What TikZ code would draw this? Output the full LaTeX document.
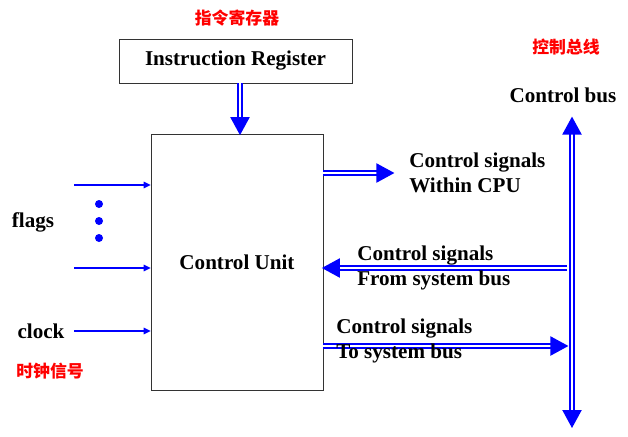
\documentclass[tikz,border=0pt]{standalone}
\usepackage{fontspec}
\setmainfont{Liberation Serif}
\newfontfamily\cjk{Noto Sans CJK SC}
\usetikzlibrary{arrows.meta}

\begin{document}
\begin{tikzpicture}[
    % Styles
    block/.style={draw=black!80, thin, inner sep=0pt},
    label/.style={font=\fontsize{15}{18}\selectfont\bfseries, align=left, inner sep=0pt},
    cnlabel/.style={font=\cjk\fontsize{12}{14}\selectfont\bfseries, text=red},
    bus/.style={draw=blue, line width=1.1pt, double=white, double distance=1.5pt,
        -{Triangle[length=0.45cm,width=0.48cm]}, shorten >=-1pt},
    busboth/.style={bus, {Triangle[length=0.45cm,width=0.48cm]}-{Triangle[length=0.45cm,width=0.48cm]}},
    signal/.style={draw=blue, line width=1.2pt, -{Triangle[length=5pt,width=4.5pt]}},
]
\useasboundingbox (0,0) rectangle (15.7,10.9);

% Registers and control unit
\node[cnlabel] (ir-cn) at (5.925, 10.45) {指令寄存器};
\node[block, minimum width=5.825cm, minimum height=1.1cm, label] (ir) at (5.8875, 9.375) {Instruction Register};
\node[block, minimum width=4.3cm, minimum height=6.4cm, label] (cu) at (5.925, 4.35) {Control Unit};
\coordinate (ir-out) at (6.0, 0);
\draw[bus] (ir.south -| ir-out) -- (cu.north -| ir-out);

% Control bus
\coordinate (bus-top) at (14.3, 7.95);
\coordinate (bus-bot) at (14.3, 0.2);
\draw[busboth] (bus-bot) -- (bus-top);
\node[label] (bus-lbl) at (14.075, 8.525) {Control bus};
\node[cnlabel] (bus-cn) at (14.15, 9.725) {控制总线};

% Output signals
\coordinate (cpu-end) at (9.825, 6.575);
\draw[bus] (cu.east |- cpu-end) -- (cpu-end);
\node[label, anchor=west] (cpu-lbl) at (10.225, 6.58) {Control signals\\Within CPU};

\coordinate (from-bus) at (14.175, 4.2);
\draw[bus] (from-bus) -- (cu.east |- from-bus);
\node[label, anchor=west] (from-lbl) at (8.925, 4.2) {Control signals\\From system bus};

\coordinate (to-bus) at (14.175, 2.25);
\draw[bus] (cu.east |- to-bus) -- (to-bus);
\node[label, anchor=west] (to-lbl) at (8.4, 2.375) {Control signals\\To system bus};

% Inputs: flags and clock
\coordinate (flag1) at (1.85, 6.275);
\coordinate (flag2) at (1.85, 4.2);
\coordinate (clk) at (1.85, 2.625);
\draw[signal] (flag1) -- (cu.west |- flag1);
\draw[signal] (flag2) -- (cu.west |- flag2);
\draw[signal] (clk) -- (cu.west |- clk);
\foreach \y in {5.8, 5.375, 4.95}
    \fill[blue] (2.475, \y) circle (0.1);
\node[label] (flags-lbl) at (0.825, 5.35) {flags};
\node[label] (clk-lbl) at (1.025, 2.625) {clock};
\node[cnlabel] (clk-cn) at (1.25, 1.625) {时钟信号};

\end{tikzpicture}
\end{document}
